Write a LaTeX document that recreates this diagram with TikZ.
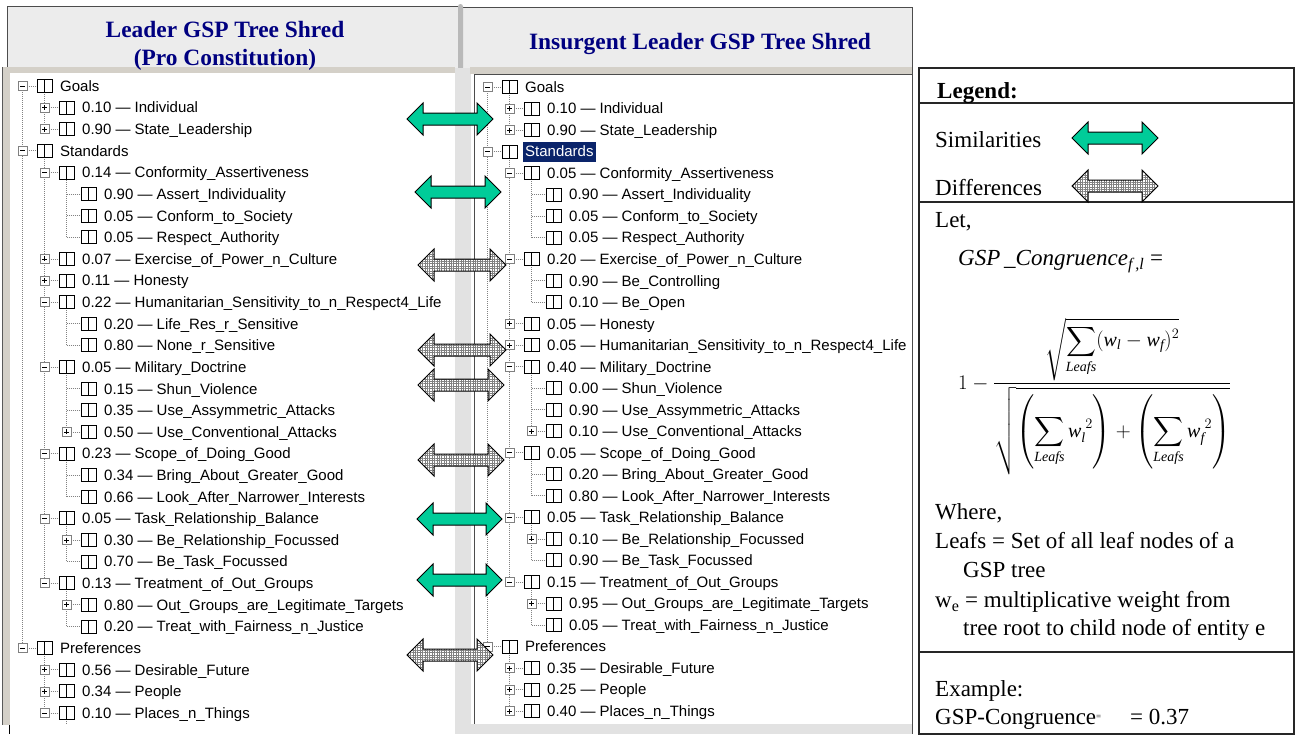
\documentclass[tikz,border=0pt]{standalone}
\usepackage{amsmath}
\usepackage{fontspec}
\setmainfont{Liberation Serif}
\newfontfamily\treefont{Liberation Sans}
\usetikzlibrary{patterns.meta}
\definecolor{simgreen}{RGB}{0,204,153}
\definecolor{hdrgray}{RGB}{236,236,236}
\definecolor{framebeige}{RGB}{212,208,200}
\definecolor{navyhdr}{RGB}{0,0,128}
\definecolor{hlblue}{RGB}{10,36,106}
\definecolor{dotgray}{RGB}{130,130,130}
\definecolor{stripgray}{RGB}{226,226,226}
\newcommand\dblarr[4]{%
  \draw[#1] (#2,#4) -- ++(16,-16) -- ++(0,10) -- (#3-16,#4-6) -- ++(0,-10) -- (#3,#4)
    -- ++(-16,16) -- ++(0,-10) -- (#2+16,#4+6) -- ++(0,10) -- cycle;}
\begin{document}
\begin{tikzpicture}[x=1pt,y=-1pt,
  treeline/.style={dotgray, line width=0.8pt, dash pattern=on 1pt off 1pt},
  iconbox/.style={draw=black, fill=white, line width=0.9pt},
  expbox/.style={draw=gray, fill=white, line width=0.7pt},
  treetxt/.style={anchor=west, inner sep=0pt, text height=10.7pt, text depth=0pt, font=\treefont\fontsize{15}{18}\selectfont},
  hl-n/.style={},
  hl-h/.style={fill=hlblue, text=white, inner xsep=2pt, inner ysep=4.7pt, xshift=-2pt},
  legtxt/.style={anchor=west, inner sep=0pt, text height=15.2pt, text depth=0pt, font=\fontsize{23}{27}\selectfont},
  hdr/.style={inner sep=0pt, text height=15.5pt, text depth=0pt, text=navyhdr, font=\bfseries\fontsize{23.4}{28}\selectfont},
  simarrow/.style={draw=black, line width=1pt, fill=simgreen, line join=miter},
  difarrow/.style={draw=black, line width=1pt, preaction={fill=white}, pattern={Hatch[angle=0,distance=2.4pt,line width=0.5pt]}, pattern color=gray, line join=miter}
]
\useasboundingbox (0,0) rectangle (1296,734);
\fill[white] (0,0) rectangle (1296,734);
% ---------- headers ----------
\fill[hdrgray] (7,6) rectangle (458,68);
\draw[gray!60!black, line width=1pt] (7,68) -- (7,6) -- (458,6);
\fill[hdrgray] (463,7) rectangle (912,68);
\draw[gray!60!black, line width=1pt] (463,7) -- (912,7) -- (912,734);
\fill[gray!55, rounded corners=2.5pt] (458,4) rectangle (463,70);
% ---------- strip between panels ----------
\fill[stripgray] (455,68) rectangle (471,734);
% ---------- left tree panel ----------
\fill[framebeige] (2,67) rectangle (455,725);
\fill[white] (10,73) rectangle (455,725);
\draw[gray!70!black, line width=0.8pt] (2.5,67) -- (2.5,725);
\draw[black, line width=1pt] (9,725) -- (9,734);
% ---------- right tree panel ----------
\fill[framebeige] (470,67) rectangle (911.5,74);
\fill[white] (474,74) rectangle (911.5,724);
\draw[gray!60!black, line width=1pt] (474.5,724) -- (474.5,74.5) -- (911.5,74.5);
\fill[stripgray] (471,724) rectangle (911.5,734);
% ---------- headers text ----------
\node[hdr] (h1) at (225,30) {Leader GSP Tree Shred};
\node[hdr] (h2) at (225,58) {(Pro Constitution)};
\node[hdr] (h3) at (700,42) {Insurgent Leader GSP Tree Shred};
% ---------- left tree ----------
\foreach \lv/\a/\b in {0/1/27, 1/1/3, 1/4/24, 2/5/8, 2/11/13, 2/14/17, 2/18/20, 2/21/23, 2/24/26, 1/27/30, 2/30/30.5}{
  \draw[treeline] ({22.5+22*\lv},{86+(\a-1)*21.62}) -- ({22.5+22*\lv},{86+(\b-1)*21.62});
}
\foreach \i/\lev/\ex/\hh/\txt in {1/0/1/n/Goals, 2/1/2/n/0.10 — Individual, 3/1/2/n/0.90 — State\_Leadership, 4/0/1/n/Standards, 5/1/1/n/0.14 — Conformity\_Assertiveness, 6/2/0/n/0.90 — Assert\_Individuality, 7/2/0/n/0.05 — Conform\_to\_Society, 8/2/0/n/0.05 — Respect\_Authority, 9/1/2/n/0.07 — Exercise\_of\_Power\_n\_Culture, 10/1/2/n/0.11 — Honesty, 11/1/1/n/0.22 — Humanitarian\_Sensitivity\_to\_n\_Respect4\_Life, 12/2/0/n/0.20 — Life\_Res\_r\_Sensitive, 13/2/0/n/0.80 — None\_r\_Sensitive, 14/1/1/n/0.05 — Military\_Doctrine, 15/2/0/n/0.15 — Shun\_Violence, 16/2/0/n/0.35 — Use\_Assymmetric\_Attacks, 17/2/2/n/0.50 — Use\_Conventional\_Attacks, 18/1/1/n/0.23 — Scope\_of\_Doing\_Good, 19/2/0/n/0.34 — Bring\_About\_Greater\_Good, 20/2/0/n/0.66 — Look\_After\_Narrower\_Interests, 21/1/1/n/0.05 — Task\_Relationship\_Balance, 22/2/2/n/0.30 — Be\_Relationship\_Focussed, 23/2/0/n/0.70 — Be\_Task\_Focussed, 24/1/1/n/0.13 — Treatment\_of\_Out\_Groups, 25/2/2/n/0.80 — Out\_Groups\_are\_Legitimate\_Targets, 26/2/0/n/0.20 — Treat\_with\_Fairness\_n\_Justice, 27/0/1/n/Preferences, 28/1/2/n/0.56 — Desirable\_Future, 29/1/2/n/0.34 — People, 30/1/1/n/0.10 — Places\_n\_Things}{
  \pgfmathsetmacro\yy{86+(\i-1)*21.62}
  \pgfmathsetmacro\ee{22.5+22*\lev}
  \draw[treeline] (\ee,\yy) -- (\ee+14.5,\yy);
  \draw[iconbox] (\ee+14.5,\yy-6.5) rectangle (\ee+29.5,\yy+6.5);
  \draw[line width=0.9pt] (\ee+22,\yy-6.5) -- (\ee+22,\yy+6.5);
  \ifnum\ex>0
    \draw[expbox] (\ee-4.5,\yy-4.5) rectangle (\ee+4.5,\yy+4.5);
    \draw[line width=0.8pt] (\ee-2.5,\yy) -- (\ee+2.5,\yy);
  \fi
  \ifnum\ex=2
    \draw[line width=0.8pt] (\ee,\yy-2.5) -- (\ee,\yy+2.5);
  \fi
  \node[treetxt, hl-\hh] (l\i) at (\ee+37.5,\yy) {\txt};
}
% ---------- right tree ----------
\foreach \lv/\a/\b in {0/1/27, 1/1/3, 1/4/24, 2/5/8, 2/9/11, 2/14/17, 2/18/20, 2/21/23, 2/24/26, 1/27/30}{
  \draw[treeline] ({487.5+22*\lv},{87+(\a-1)*21.52}) -- ({487.5+22*\lv},{87+(\b-1)*21.52});
}
\foreach \i/\lev/\ex/\hh/\txt in {1/0/1/n/Goals, 2/1/2/n/0.10 — Individual, 3/1/2/n/0.90 — State\_Leadership, 4/0/1/h/Standards, 5/1/1/n/0.05 — Conformity\_Assertiveness, 6/2/0/n/0.90 — Assert\_Individuality, 7/2/0/n/0.05 — Conform\_to\_Society, 8/2/0/n/0.05 — Respect\_Authority, 9/1/1/n/0.20 — Exercise\_of\_Power\_n\_Culture, 10/2/0/n/0.90 — Be\_Controlling, 11/2/0/n/0.10 — Be\_Open, 12/1/2/n/0.05 — Honesty, 13/1/2/n/0.05 — Humanitarian\_Sensitivity\_to\_n\_Respect4\_Life, 14/1/1/n/0.40 — Military\_Doctrine, 15/2/0/n/0.00 — Shun\_Violence, 16/2/0/n/0.90 — Use\_Assymmetric\_Attacks, 17/2/2/n/0.10 — Use\_Conventional\_Attacks, 18/1/1/n/0.05 — Scope\_of\_Doing\_Good, 19/2/0/n/0.20 — Bring\_About\_Greater\_Good, 20/2/0/n/0.80 — Look\_After\_Narrower\_Interests, 21/1/1/n/0.05 — Task\_Relationship\_Balance, 22/2/2/n/0.10 — Be\_Relationship\_Focussed, 23/2/0/n/0.90 — Be\_Task\_Focussed, 24/1/1/n/0.15 — Treatment\_of\_Out\_Groups, 25/2/2/n/0.95 — Out\_Groups\_are\_Legitimate\_Targets, 26/2/0/n/0.05 — Treat\_with\_Fairness\_n\_Justice, 27/0/1/n/Preferences, 28/1/2/n/0.35 — Desirable\_Future, 29/1/2/n/0.25 — People, 30/1/2/n/0.40 — Places\_n\_Things}{
  \pgfmathsetmacro\yy{87+(\i-1)*21.52}
  \pgfmathsetmacro\ee{487.5+22*\lev}
  \draw[treeline] (\ee,\yy) -- (\ee+14.5,\yy);
  \draw[iconbox] (\ee+14.5,\yy-6.5) rectangle (\ee+29.5,\yy+6.5);
  \draw[line width=0.9pt] (\ee+22,\yy-6.5) -- (\ee+22,\yy+6.5);
  \ifnum\ex>0
    \draw[expbox] (\ee-4.5,\yy-4.5) rectangle (\ee+4.5,\yy+4.5);
    \draw[line width=0.8pt] (\ee-2.5,\yy) -- (\ee+2.5,\yy);
  \fi
  \ifnum\ex=2
    \draw[line width=0.8pt] (\ee,\yy-2.5) -- (\ee,\yy+2.5);
  \fi
  \node[treetxt, hl-\hh] (r\i) at (\ee+37.5,\yy) {\txt};
}
% ---------- comparison arrows ----------
\dblarr{simarrow}{407}{493}{119}
\dblarr{simarrow}{415}{501}{192}
\dblarr{difarrow}{418}{506}{265}
\dblarr{difarrow}{418}{506}{350}
\dblarr{difarrow}{418}{504}{385}
\dblarr{difarrow}{418}{504}{460}
\dblarr{simarrow}{417}{502}{519}
\dblarr{simarrow}{417}{502}{580}
\dblarr{difarrow}{407}{493}{655}
% ---------- legend ----------
\draw[gray!30!black, line width=1.3pt] (919,68) rectangle (1294,734);
\draw[gray!30!black, line width=1.3pt] (919,103) -- (1294,103);
\draw[gray!30!black, line width=1.3pt] (919,202) -- (1294,202);
\draw[gray!30!black, line width=1.3pt] (919,652) -- (1294,652);
\node[legtxt, font=\bfseries\fontsize{23}{27}\selectfont] (leg) at (937,91) {Legend:};
\node[legtxt] (sim) at (935,140) {Similarities};
\node[legtxt] (dif) at (935,188) {Differences};
\dblarr{simarrow}{1072}{1158}{138}
\dblarr{difarrow}{1072}{1158}{186}
\node[legtxt] (let) at (935,220) {Let,};
\node[legtxt] (gspc) at (958,258) {\itshape GSP\,\_Congruence\textsubscript{\itshape f\,,l}\upshape\ =};
\node[anchor=base west, inner sep=0pt, font=\fontsize{20}{24}\selectfont] (frm) at (958,389)
  {$1-\dfrac{\sqrt{\displaystyle\sum_{\mathit{Leafs}}(\mathit{w}_{\mathit{l}}-\mathit{w}_{\mathit{f}})^{2}}}{\sqrt{\left(\displaystyle\sum_{\mathit{Leafs}}\mathit{w}_{\mathit{l}}^{\;2}\right)+\left(\displaystyle\sum_{\mathit{Leafs}}\mathit{w}_{\mathit{f}}^{\;2}\right)}}$};
\node[legtxt] (where) at (935,512) {Where,};
\node[legtxt] (leafs1) at (935,541) {Leafs = Set of all leaf nodes of a};
\node[legtxt] (leafs2) at (963,570) {GSP tree};
\node[legtxt] (we1) at (935,600) {w\textsubscript{e} = multiplicative weight from};
\node[legtxt] (we2) at (963,628) {tree root to child node of entity e};
\node[legtxt] (ex) at (935,689) {Example:};
\node[legtxt] (ex1) at (935,717) {GSP-Congruence{\fontsize{9}{9}\selectfont\raisebox{1.2ex}{=}}};
\node[legtxt] (ex2) at (1130,717) {= 0.37};
\end{tikzpicture}
\end{document}
